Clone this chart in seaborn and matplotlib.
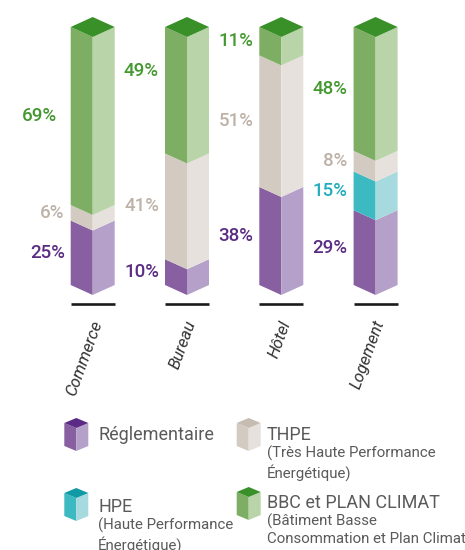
import numpy as np
import pandas as pd
import matplotlib
matplotlib.use("Agg")
import matplotlib.pyplot as plt
import seaborn as sns

sns.set_style("white")
plt.rcParams['font.family'] = ['Roboto', 'DejaVu Sans']

# data (percent of each building type)
categories = ["Commerce", "Bureau", "Hôtel", "Logement"]
reglementaire = [25, 10, 38, 29]
hpe = [0, 0, 0, 15]
thpe = [6, 41, 51, 8]
bbc = [69, 49, 11, 48]

series = ["Réglementaire", "HPE", "THPE", "BBC et PLAN CLIMAT"]
df = pd.DataFrame({"Réglementaire": reglementaire, "HPE": hpe,
                   "THPE": thpe, "BBC et PLAN CLIMAT": bbc}, index=categories)

# colours: (left face, right face, top, label)
colors = {
    "Réglementaire": ("#8860a2", "#b5a0ca", "#5b2a86", "#5b2c83"),
    "HPE": ("#3cb9c1", "#a7dade", "#0f9aa6", "#22adbd"),
    "THPE": ("#d3cac2", "#e6e1dc", "#c7bcb2", "#bdb2a8"),
    "BBC et PLAN CLIMAT": ("#7dae63", "#b8d4a8", "#3a9028", "#43992f"),
}

# layout (pixels of a 465x550 picture)
W, H = 465, 550
x0_px, step_px = 92.7, 94.3      # centre of first bar, spacing
y0_px, px_per_pct = 285, 2.58    # baseline of bars, scale
hw = 22 / step_px                # half width of a bar in x units
d = 10 / px_per_pct              # depth of the chevrons in % units
gap = 6 / step_px

fig = plt.figure(figsize=(W / 100, H / 100), dpi=100)
ax = fig.add_axes([0, 0, 1, 1])
ax.set_xlim(-x0_px / step_px, (W - x0_px) / step_px)
ax.set_ylim(-(H - y0_px) / px_per_pct, y0_px / px_per_pct)
ax.axis("off")

# small nudges for labels (in % units) where the original moved them
label_nudge = {("Bureau", "BBC et PLAN CLIMAT"): 7.5}
label_xnudge = {("Commerce", "BBC et PLAN CLIMAT"): -8 / step_px}

for i, cat in enumerate(categories):
    c = i
    bottom = 0
    for s in series:
        v = df.loc[cat, s]
        if v == 0:
            continue
        top = bottom + v
        lc, rc, tc, txt = colors[s]
        ax.fill([c - hw, c, c, c - hw], [bottom, bottom - d, top - d, top],
                color=lc, lw=0)
        ax.fill([c, c + hw, c + hw, c], [bottom - d, bottom, top, top - d],
                color=rc, lw=0)
        ymid = (bottom + top) / 2 + label_nudge.get((cat, s), 0)
        ax.text(c - hw - gap + label_xnudge.get((cat, s), 0), ymid, f"{v}%",
                ha="right", va="center", fontsize=13.5, fontweight="medium",
                color=txt)
        bottom = top
    # top diamond
    tc = colors[series[-1]][2]
    ax.fill([c - hw, c, c + hw, c], [bottom, bottom + d, bottom, bottom - d],
            color=tc, lw=0)
    # base line
    ax.plot([c - hw, c + hw], [-19 / px_per_pct] * 2, color="#1a1a1a", lw=1.9,
            solid_capstyle="butt")
    # category label
    ax.text(c + 5 / step_px, -36 / px_per_pct, cat, rotation=70,
            rotation_mode="anchor", ha="right", va="center", fontsize=12,
            style="italic", color="#333333")

# legend in an overlay axes using picture pixels
lax = fig.add_axes([0, 0, 1, 1])
lax.set_xlim(0, W)
lax.set_ylim(H, 0)
lax.axis("off")


def cube(x, y, s):
    lc, rc, tc, _ = colors[s]
    w, dd, h = 12, 5, 23
    lax.fill([x - w, x, x, x - w], [y + dd, y + 2 * dd, y + 2 * dd + h, y + dd + h],
             color=lc, lw=0)
    lax.fill([x, x + w, x + w, x], [y + 2 * dd, y + dd, y + dd + h, y + 2 * dd + h],
             color=rc, lw=0)
    lax.fill([x - w, x, x + w, x], [y + dd, y, y + dd, y + 2 * dd],
             color=tc, lw=0)


legend_items = [
    ("Réglementaire", None, 76.3, 418, 98, 435),
    ("THPE", "(Très Haute Performance\nÉnergétique)", 248.7, 418, 266.5, 435),
    ("HPE", "(Haute Performance\nÉnergétique)", 76.3, 488, 98, 507),
    ("BBC et PLAN CLIMAT", "(Bâtiment Basse\nConsommation et Plan Climat)",
     248.7, 487, 266.5, 503),
]
for s, sub, x, y, tx, ty in legend_items:
    cube(x, y, s)
    lax.text(tx, ty, s, ha="left", va="center", fontsize=13,
             color="#5a5a5a")
    if sub:
        lax.text(tx, ty + 11, sub, ha="left", va="top", fontsize=10.8,
                 color="#5a5a5a", linespacing=1.2)

fig.savefig("out.png", dpi=100)
